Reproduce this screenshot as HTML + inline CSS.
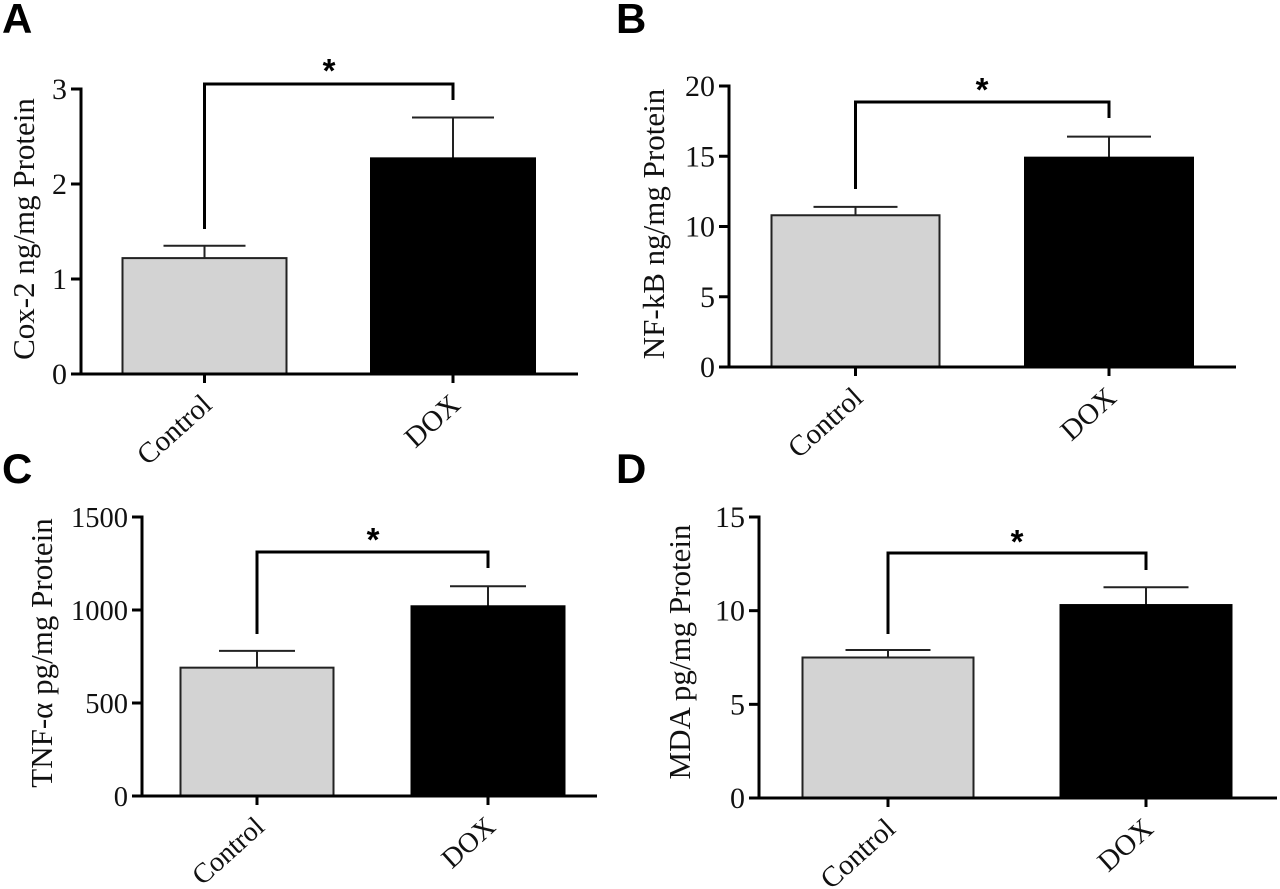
<!DOCTYPE html>
<html>
<head>
<meta charset="utf-8">
<title>Cox-2, NF-kB, TNF-α and MDA bar charts</title>
<style>
html,body{margin:0;padding:0;background:#fff;}
svg{display:block;}
text{font-family:"Liberation Serif",serif;fill:#111;}
.letter{font-family:"Liberation Sans",sans-serif;font-weight:700;font-size:42px;fill:#000;}
</style>
</head>
<body>
<svg id="figure" width="1280" height="889" viewBox="0 0 1280 889" xmlns="http://www.w3.org/2000/svg"></svg>
<script>
const categories = ["Control", "DOX"];
const coxValues = [1.22, 2.27];
const coxErrors = [0.13, 0.43];
const coxTicks = [0, 1, 2, 3];
const nfkbValues = [10.8, 14.9];
const nfkbErrors = [0.6, 1.5];
const nfkbTicks = [0, 5, 10, 15, 20];
const tnfValues = [690, 1020];
const tnfErrors = [90, 108];
const tnfTicks = [0, 500, 1000, 1500];
const mdaValues = [7.5, 10.3];
const mdaErrors = [0.4, 0.95];
const mdaTicks = [0, 5, 10, 15];

const panels = [
  {id:"a", letter:"A", lx:2, ly:33, title:"Cox-2 ng/mg Protein", values:coxValues, errors:coxErrors, ticks:coxTicks,
   ax:81, y0:374, yTop:89, xEnd:578, xc:[204.5,453], bw:164, capW:82, titleX:34, titleY:229, fs:31, tickFs:30, labelFs:29,
   brTop:84, brL:229, brR:100, starX:329, starY:82},
  {id:"b", letter:"B", lx:616, ly:33, title:"NF-kB ng/mg Protein", values:nfkbValues, errors:nfkbErrors, ticks:nfkbTicks,
   ax:729, y0:367, yTop:86, xEnd:1236, xc:[855.5,1109], bw:168, capW:84, titleX:664, titleY:224, fs:31, tickFs:30, labelFs:29,
   brTop:102, brL:189, brR:118, starX:982, starY:101},
  {id:"c", letter:"C", lx:2, ly:483, title:"TNF-α pg/mg Protein", values:tnfValues, errors:tnfErrors, ticks:tnfTicks,
   ax:142, y0:796, yTop:517, xEnd:597, xc:[257,488], bw:153, capW:76, titleX:52, titleY:653, fs:31, tickFs:28.5, labelFs:28,
   brTop:552, brL:634, brR:568, starX:373, starY:551},
  {id:"d", letter:"D", lx:616, ly:483, title:"MDA pg/mg Protein", values:mdaValues, errors:mdaErrors, ticks:mdaTicks,
   ax:759, y0:798, yTop:517, xEnd:1277, xc:[888,1146], bw:171, capW:85, titleX:690, titleY:652, fs:31, tickFs:30, labelFs:29,
   brTop:553, brL:634, brR:570, starX:1017, starY:553}
];

const svg = document.getElementById("figure");
const NS = "http://www.w3.org/2000/svg";

function make(tag, attrs, parent, content) {
  const el = document.createElementNS(NS, tag);
  for (const k in attrs) el.setAttribute(k, attrs[k]);
  if (content !== undefined) el.textContent = content;
  parent.appendChild(el);
  return el;
}

function yScale(p, v) {
  const max = p.ticks[p.ticks.length - 1];
  return p.y0 - (v / max) * (p.y0 - p.yTop);
}

panels.forEach(function (p) {
  const g = make("g", {}, svg);
  
  

  const letter = make("text", {x:p.lx, y:p.ly, class:"letter"}, g, p.letter);
  
  

  const title = make("text", {
    x:p.titleX, y:p.titleY, "font-size":p.fs, "text-anchor":"middle",
    transform:"rotate(-90 " + p.titleX + " " + p.titleY + ")"
  }, g, p.title);
  
  

  // bars and error bars
  p.values.forEach(function (v, i) {
    const cx = p.xc[i];
    const top = yScale(p, v);
    const errTop = yScale(p, v + p.errors[i]);
    const stem = make("line", {x1:cx, x2:cx, y1:top, y2:errTop, stroke:"#222", "stroke-width":2}, g);
    
    
    const cap = make("line", {x1:cx - p.capW / 2, x2:cx + p.capW / 2, y1:errTop, y2:errTop, stroke:"#222", "stroke-width":2}, g);
    
    
    const bar = make("rect", {
      x:cx - p.bw / 2, y:top, width:p.bw, height:p.y0 - top,
      fill:i === 0 ? "#d3d3d3" : "#000", stroke:i === 0 ? "#222" : "#000", "stroke-width":2
    }, g);
    
    
    const xTick = make("line", {x1:cx, x2:cx, y1:p.y0, y2:p.y0 + 9, stroke:"#000", "stroke-width":3}, g);
    
    
    const lx = cx + 9;
    const ly = p.y0 + 33;
    const xLabel = make("text", {
      x:lx, y:ly, "font-size":p.labelFs, "text-anchor":"end",
      transform:"rotate(-42 " + lx + " " + ly + ")"
    }, g, categories[i]);
    
    
  });

  // axes
  const yAxis = make("line", {x1:p.ax, x2:p.ax, y1:p.yTop - 1.5, y2:p.y0 + 1.5, stroke:"#000", "stroke-width":3}, g);
  
  
  const xAxis = make("line", {x1:p.ax - 10, x2:p.xEnd, y1:p.y0, y2:p.y0, stroke:"#000", "stroke-width":3}, g);
  
  

  p.ticks.forEach(function (t) {
    const y = yScale(p, t);
    const tick = make("line", {x1:p.ax - 10, x2:p.ax, y1:y, y2:y, stroke:"#000", "stroke-width":3}, g);
    
    
    const label = make("text", {x:p.ax - 14, y:y + 10, "font-size":p.tickFs, "text-anchor":"end"}, g, String(t));
    
    
  });

  // significance bracket
  const d = "M" + p.xc[0] + " " + p.brL + "V" + p.brTop + "H" + p.xc[1] + "V" + p.brR;
  const bracket = make("path", {d:d, fill:"none", stroke:"#000", "stroke-width":3}, g);
  
  
  const star = make("text", {x:p.starX, y:p.starY, "font-size":33, "font-weight":700, "text-anchor":"middle", style:"font-family:'Liberation Sans',sans-serif;fill:#000"}, g, "*");
  
  
});
</script>
</body>
</html>
